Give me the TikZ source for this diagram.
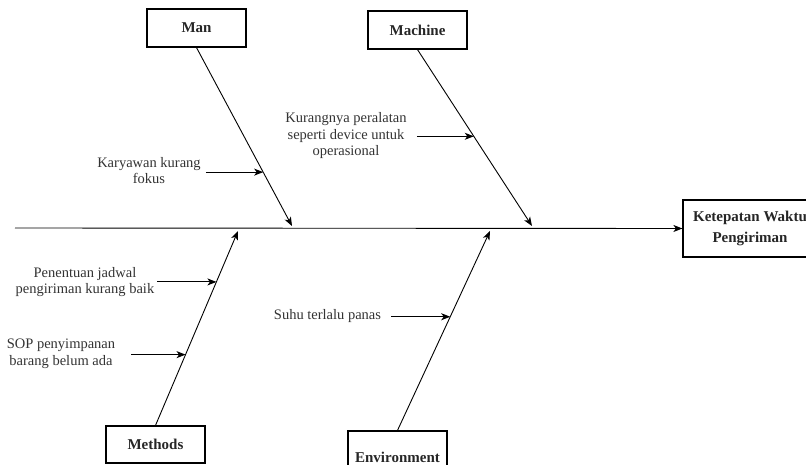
\documentclass[tikz,border=0pt]{standalone}
\usepackage{fontspec}
\setmainfont{Liberation Serif}
\usetikzlibrary{arrows.meta,calc}
\begin{document}
\begin{tikzpicture}[x=1pt,y=-1pt,
  catbox/.style={draw, line width=1.2pt, minimum width=99pt, minimum height=38pt, inner sep=0pt,
    font=\fontsize{15}{17}\selectfont\bfseries, text=black!85},
  cause/.style={align=center, inner sep=0pt, font=\fontsize{14.5}{16.5}\selectfont, text=black!80},
  arr/.style={line width=0.9pt, -{Stealth[length=9pt,width=7pt,inset=2.5pt]}},
  bone/.style={line width=0.9pt},
]
\useasboundingbox (0,0) rectangle (806,465);
\clip (0,0) rectangle (806,465);
% category boxes
\node[catbox] (man) at (196.5,28) {Man};
\node[catbox] (mach) at (417.5,30) {Machine};
\node[catbox, minimum height=37pt] (meth) at (155.5,444.5) {Methods};
\node[catbox, minimum height=52pt] (env) at (397.5,457) {Environment};
\node[catbox, minimum width=134pt, minimum height=57pt, align=center,
  font=\fontsize{15}{21}\selectfont\bfseries] (eff) at (750,228.5) {Ketepatan Waktu\\Pengiriman};
% spine
\coordinate (tail) at (15,228);
\draw[arr] (tail) -- (eff.west);
% bone end points
\coordinate (manE) at (292,226);
\coordinate (machE) at (532,226);
\coordinate (methE) at (238,231);
\coordinate (envE) at (490,231);
\draw[arr] (man.south) -- (manE);
\draw[arr] (mach.south) -- (machE);
\draw[arr] (meth.north) -- (methE);
\draw[arr] (env.north) -- (envE);
% cause texts
\node[cause] (c1) at (149,170.5) {Karyawan kurang\\fokus};
\node[cause] (c2) at (346,136) {Kurangnya peralatan\\seperti device untuk\\operasional};
\node[cause] (c3) at (85,282) {Penentuan jadwal\\pengiriman kurang baik};
\node[cause] (c4) at (61,354) {SOP penyimpanan\\barang belum ada};
\node[cause] (c5) at (327.5,316) {Suhu terlalu panas};
% points on bones
\coordinate (p1) at ($(man.south)!0.698!(manE)$);
\coordinate (p2) at ($(mach.south)!0.4915!(machE)$);
\coordinate (p3) at ($(meth.north)!0.738!(methE)$);
\coordinate (p4) at ($(meth.north)!0.364!(methE)$);
\coordinate (p5) at ($(env.north)!0.57!(envE)$);
\draw[arr] ($(c1.east |- p1)+(5,0)$) -- (p1);
\draw[arr] ($(c2.east |- p2)+(10,0)$) -- (p2);
\draw[arr] ($(c3.east |- p3)+(3,0)$) -- (p3);
\draw[arr] ($(c4.east |- p4)+(16,0)$) -- (p4);
\draw[arr] ($(c5.east |- p5)+(10,0)$) -- (p5);
\end{tikzpicture}
\end{document}
